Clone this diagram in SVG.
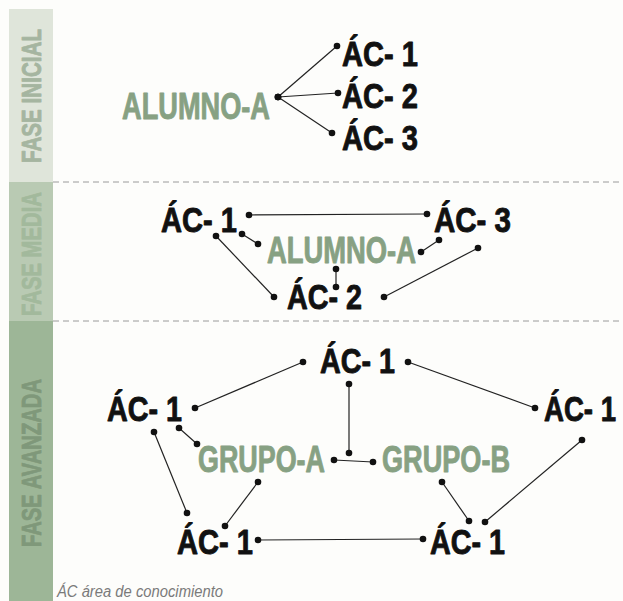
<svg xmlns="http://www.w3.org/2000/svg" width="623" height="601" viewBox="0 0 623 601">
  <style>
    .ac { font-family: "Liberation Sans Narrow", "Liberation Sans", Arial, sans-serif; font-weight: bold; font-size: 35px; fill: #111111; stroke: #111111; stroke-width: 0.9; stroke-linejoin: round; }
    .who { font-family: "Liberation Sans Narrow", "Liberation Sans", Arial, sans-serif; font-weight: bold; font-size: 36px; fill: #87a183; stroke: #87a183; stroke-width: 0.9; stroke-linejoin: round; }
    .phase { font-family: "Liberation Sans Narrow", "Liberation Sans", Arial, sans-serif; font-weight: bold; font-size: 27px; text-anchor: middle; stroke-width: 0.8; stroke-linejoin: round; }
    .link { stroke: #222222; stroke-width: 1.2; fill: none; marker-start: url(#dot); marker-end: url(#dot); }
    .sep { stroke: #9a9a9a; stroke-width: 1; stroke-dasharray: 6 4; }
    .legend { font-family: "Liberation Sans Narrow", "Liberation Sans", Arial, sans-serif; font-style: italic; font-size: 16px; fill: #7a7a7a; }
  </style>
  <defs>
    <marker id="dot" markerUnits="userSpaceOnUse" markerWidth="8" markerHeight="8" refX="4" refY="4" viewBox="0 0 8 8">
      <circle cx="4" cy="4" r="3.3" fill="#111111"/>
    </marker>
  </defs>

  <rect width="623" height="601" fill="#fdfdfb"/>

  <!-- phase bands -->
  <g id="bands">
    <rect x="9" y="9" width="44" height="173" fill="#dfe5da"/>
    <rect x="9" y="182" width="44" height="139" fill="#b9cab3"/>
    <rect x="9" y="321" width="44" height="280" fill="#9db697"/>
    <text class="phase" fill="#a5b5a0" stroke="#a5b5a0" textLength="134" lengthAdjust="spacingAndGlyphs" transform="translate(41,96) rotate(-90)">FASE INICIAL</text>
    <text class="phase" fill="#a2b99c" stroke="#a2b99c" textLength="124" lengthAdjust="spacingAndGlyphs" transform="translate(41,254) rotate(-90)">FASE MEDIA</text>
    <text class="phase" fill="#7f987a" stroke="#7f987a" textLength="168" lengthAdjust="spacingAndGlyphs" transform="translate(41,463) rotate(-90)">FASE AVANZADA</text>
    <line class="sep" x1="53" y1="182" x2="623" y2="182"/>
    <line class="sep" x1="53" y1="321" x2="623" y2="321"/>
  </g>

  <!-- connectors -->
  <g id="connectors">
    <!-- initial phase -->
    <line class="link" x1="278" y1="97" x2="337" y2="46"/>
    <line class="link" x1="278" y1="97" x2="338" y2="93"/>
    <line class="link" x1="278" y1="97" x2="332" y2="133"/>
    <!-- middle phase -->
    <line class="link" x1="249" y1="215" x2="427" y2="214"/>
    <line class="link" x1="242" y1="234" x2="258" y2="244"/>
    <line class="link" x1="216" y1="236" x2="274" y2="297"/>
    <line class="link" x1="421" y1="252" x2="439" y2="240"/>
    <line class="link" x1="478" y1="248" x2="384" y2="297"/>
    <line class="link" x1="336" y1="269" x2="336" y2="287"/>
    <!-- advanced phase -->
    <line class="link" x1="195" y1="408" x2="303" y2="362"/>
    <line class="link" x1="408" y1="362" x2="535" y2="408"/>
    <line class="link" x1="349" y1="384" x2="349" y2="453"/>
    <line class="link" x1="334" y1="460" x2="373" y2="462"/>
    <line class="link" x1="154" y1="432" x2="187" y2="513"/>
    <line class="link" x1="179" y1="428" x2="197" y2="444"/>
    <line class="link" x1="258" y1="482" x2="225" y2="526"/>
    <line class="link" x1="442" y1="482" x2="469" y2="521"/>
    <line class="link" x1="582" y1="440" x2="485" y2="522"/>
    <line class="link" x1="258" y1="540" x2="423" y2="539"/>
  </g>

  <!-- initial phase nodes -->
  <g id="ini-alumno"><text class="who" x="122" y="119" textLength="148" lengthAdjust="spacingAndGlyphs">ALUMNO-A</text></g>
  <g id="ini-ac1"><text class="ac" x="342" y="66" textLength="76" lengthAdjust="spacingAndGlyphs">ÁC- 1</text></g>
  <g id="ini-ac2"><text class="ac" x="342" y="108" textLength="76" lengthAdjust="spacingAndGlyphs">ÁC- 2</text></g>
  <g id="ini-ac3"><text class="ac" x="342" y="150" textLength="76" lengthAdjust="spacingAndGlyphs">ÁC- 3</text></g>

  <!-- middle phase nodes -->
  <g id="mid-ac1"><text class="ac" x="161" y="232" textLength="76" lengthAdjust="spacingAndGlyphs">ÁC- 1</text></g>
  <g id="mid-ac3"><text class="ac" x="434" y="232" textLength="77" lengthAdjust="spacingAndGlyphs">ÁC- 3</text></g>
  <g id="mid-alumno"><text class="who" x="267" y="263" textLength="149" lengthAdjust="spacingAndGlyphs">ALUMNO-A</text></g>
  <g id="mid-ac2"><text class="ac" x="287" y="309" textLength="75" lengthAdjust="spacingAndGlyphs">ÁC- 2</text></g>

  <!-- advanced phase nodes -->
  <g id="adv-ac-top"><text class="ac" x="320" y="373" textLength="75" lengthAdjust="spacingAndGlyphs">ÁC- 1</text></g>
  <g id="adv-ac-left"><text class="ac" x="107" y="421" textLength="75" lengthAdjust="spacingAndGlyphs">ÁC- 1</text></g>
  <g id="adv-ac-right"><text class="ac" x="544" y="421" textLength="72" lengthAdjust="spacingAndGlyphs">ÁC- 1</text></g>
  <g id="adv-grupo-a"><text class="who" x="198" y="472" textLength="127" lengthAdjust="spacingAndGlyphs">GRUPO-A</text></g>
  <g id="adv-grupo-b"><text class="who" x="382" y="472" textLength="128" lengthAdjust="spacingAndGlyphs">GRUPO-B</text></g>
  <g id="adv-ac-bl"><text class="ac" x="177" y="554" textLength="76" lengthAdjust="spacingAndGlyphs">ÁC- 1</text></g>
  <g id="adv-ac-br"><text class="ac" x="430" y="554" textLength="75" lengthAdjust="spacingAndGlyphs">ÁC- 1</text></g>

  <!-- legend -->
  <text class="legend" x="57" y="597" textLength="166" lengthAdjust="spacingAndGlyphs">ÁC  área de conocimiento</text>
</svg>
